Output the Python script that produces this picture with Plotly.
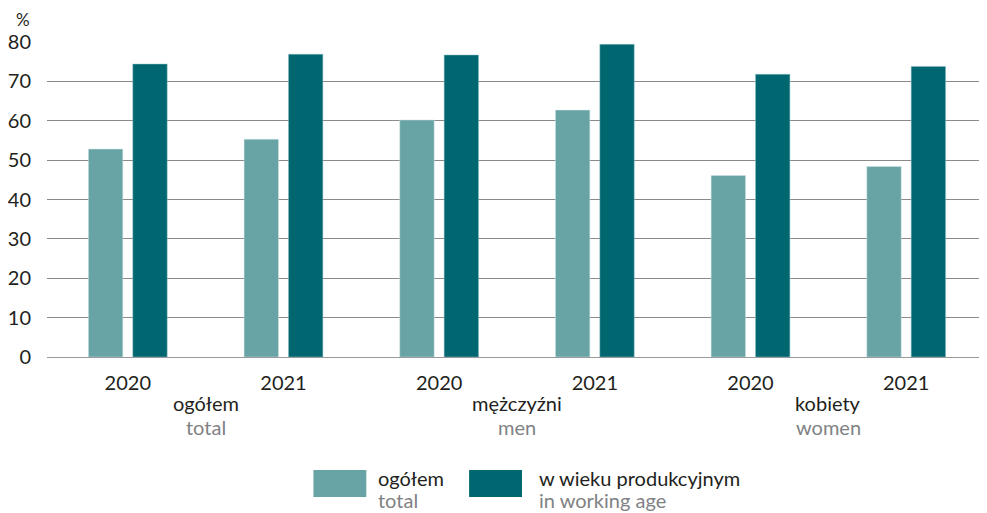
import plotly.graph_objects as go

# dane
groups = ['ogółem', 'mężczyźni', 'kobiety']
groups_en = ['total', 'men', 'women']
years = ['2020', '2021']
ogolem = [52.8, 55.3, 60.2, 62.7, 46.1, 48.4]
produkcyjny = [74.4, 76.9, 76.7, 79.4, 71.8, 73.8]

cats = [g + ' ' + y for g in groups for y in years]
year_labels = [y for g in groups for y in years]

LIGHT = '#68a4a5'
DARK = '#006770'
TXT = '#231f20'
GREY = '#808285'
FONT = 'Lato'

# strona ma 8 px marginesu, wszystko liczone w pikselach okna
OFF = 8
W, H = 987 - OFF, 513 - OFF
L, R, T, B = 45 - OFF, 0, 42 - OFF, 513 - 357


def px_x(px):
    return (px - OFF - L) / (W - L - R)


def px_y(py):
    return (H - B - (py - OFF)) / (H - T - B)


fig = go.Figure()
fig.add_trace(go.Bar(x=cats, y=ogolem, name='ogółem', marker_color=LIGHT,
                     marker_line=dict(color='#cfe3e3', width=0.5)))
fig.add_trace(go.Bar(x=cats, y=produkcyjny, name='w wieku produkcyjnym', marker_color=DARK,
                     marker_line=dict(color='#8fbfc2', width=0.5)))

fig.update_layout(
    width=W, height=H,
    margin=dict(l=L, r=R, t=T, b=B),
    barmode='group', bargap=0.43, bargroupgap=0.225,
    plot_bgcolor='white', paper_bgcolor='white',
    showlegend=False,
    font=dict(family=FONT, size=20, color=TXT),
)
fig.update_xaxes(type='category', range=[-0.519, 5.519],
                 tickvals=cats, ticktext=year_labels,
                 ticks='outside', ticklen=8, tickcolor='rgba(0,0,0,0)',
                 showgrid=False, showline=False)
fig.update_yaxes(range=[0, 80], dtick=10, showgrid=True, gridcolor='#8a8a8a', gridwidth=1,
                 zeroline=True, zerolinecolor='#9a9a9a', zerolinewidth=1,
                 ticks='outside', ticklen=11, tickcolor='rgba(0,0,0,0)')

# procenty
fig.add_annotation(text='%', xref='paper', yref='paper', x=px_x(12), y=px_y(19),
                   xanchor='left', yanchor='middle', showarrow=False, font=dict(size=17))

# etykiety grup
for i, (g, e) in enumerate(zip(groups, groups_en)):
    fig.add_annotation(text=g, x=2 * i + 0.5, xref='x', yref='paper', y=px_y(403),
                       yanchor='middle', showarrow=False)
    fig.add_annotation(text=e, x=2 * i + 0.5, xref='x', yref='paper', y=px_y(427),
                       yanchor='middle', showarrow=False, font=dict(color=GREY))

# legenda
legend_items = [(LIGHT, 312, 375, 'ogółem', 'total'),
                (DARK, 468, 536, 'w wieku produkcyjnym', 'in working age')]
for color, x0, tx, pl, en in legend_items:
    fig.add_shape(type='rect', xref='paper', yref='paper', x0=px_x(x0), x1=px_x(x0 + 53),
                  y0=px_y(497), y1=px_y(470), fillcolor=color, line_width=0)
    fig.add_annotation(text=pl, xref='paper', yref='paper', x=px_x(tx),
                       y=px_y(478), xanchor='left', yanchor='middle', showarrow=False)
    fig.add_annotation(text=en, xref='paper', yref='paper', x=px_x(tx),
                       y=px_y(500), xanchor='left', yanchor='middle', showarrow=False,
                       font=dict(color=GREY))

fig.write_html('out.html')
